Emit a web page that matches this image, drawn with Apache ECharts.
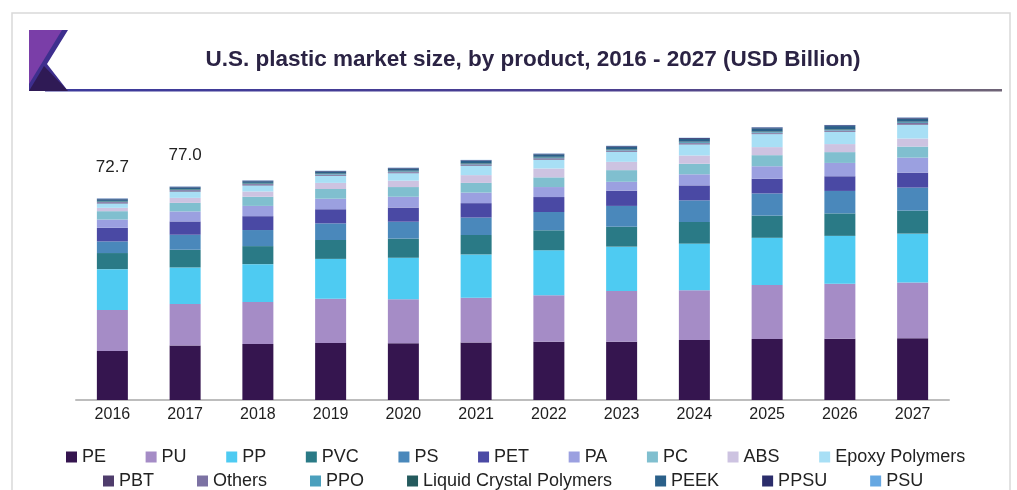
<!DOCTYPE html>
<html>
<head>
<meta charset="utf-8">
<script src="https://cdn.jsdelivr.net/npm/echarts@6/dist/echarts.min.js"></script>
<style>
  html, body { margin: 0; padding: 0; background: #ffffff; }
  #chart { width: 1017px; height: 490px; }
</style>
</head>
<body>
<div id="chart"></div>
<script>
// U.S. plastic market size by product, USD billion
const years = ['2016', '2017', '2018', '2019', '2020', '2021', '2022', '2023', '2024', '2025', '2026', '2027'];

const PE    = [17.7, 19.7, 20.2, 20.6, 20.5, 20.7, 21.0, 21.0, 21.6, 22.0, 22.1, 22.3];
const PU    = [14.8, 14.9, 15.1, 15.9, 15.8, 16.2, 16.8, 18.3, 18.0, 19.5, 19.8, 20.1];
const PP    = [14.7, 13.2, 13.7, 14.4, 15.0, 15.6, 16.2, 16.0, 16.8, 17.0, 17.3, 17.6];
const PVC   = [5.8, 6.4, 6.5, 6.8, 6.9, 7.0, 7.2, 7.2, 7.8, 8.0, 8.1, 8.3];
const PS    = [4.2, 5.4, 5.8, 6.0, 6.1, 6.3, 6.6, 7.5, 7.8, 8.0, 8.1, 8.3];
const PET   = [4.9, 4.8, 5.0, 5.1, 5.1, 5.2, 5.4, 5.5, 5.4, 5.3, 5.3, 5.4];
const PA    = [3.0, 3.6, 3.7, 3.8, 3.9, 3.8, 3.6, 3.2, 4.0, 4.5, 4.8, 5.4];
const PC    = [3.0, 3.1, 3.3, 3.5, 3.5, 3.5, 3.5, 4.2, 3.8, 4.0, 3.9, 4.0];
const ABS   = [1.2, 1.8, 1.9, 2.2, 2.3, 2.8, 3.2, 3.0, 3.0, 2.9, 2.9, 2.9];
const EPOXY = [1.6, 2.3, 2.2, 2.5, 2.7, 3.4, 3.2, 3.6, 4.0, 4.7, 4.4, 5.0];
const PBT   = [0.2, 0.2, 0.2, 0.2, 0.2, 0.2, 0.2, 0.2, 0.2, 0.2, 0.2, 0.2];
const OTHERS= [0.3, 0.3, 0.3, 0.3, 0.3, 0.3, 0.3, 0.3, 0.3, 0.3, 0.3, 0.4];
const PPO   = [0.2, 0.2, 0.2, 0.2, 0.2, 0.2, 0.3, 0.3, 0.3, 0.3, 0.3, 0.3];
const LCP   = [0.2, 0.2, 0.2, 0.2, 0.2, 0.2, 0.2, 0.2, 0.2, 0.2, 0.2, 0.2];
const PEEK  = [0.6, 0.6, 0.6, 0.7, 0.8, 0.9, 0.9, 0.9, 1.0, 1.1, 1.1, 1.1];
const PPSU  = [0.2, 0.2, 0.2, 0.2, 0.2, 0.2, 0.2, 0.2, 0.3, 0.3, 0.3, 0.3];
const PSU   = [0.1, 0.1, 0.1, 0.1, 0.1, 0.1, 0.1, 0.1, 0.1, 0.1, 0.1, 0.1];

// years whose stacked total is printed above the bar
const labelledYears = ['2016', '2017'];

const productSeries = [
  { name: 'PE', data: PE, color: '#35154f' },
  { name: 'PU', data: PU, color: '#a58cc6' },
  { name: 'PP', data: PP, color: '#4ecbf2' },
  { name: 'PVC', data: PVC, color: '#2a7a86' },
  { name: 'PS', data: PS, color: '#4a88bb' },
  { name: 'PET', data: PET, color: '#4a49a4' },
  { name: 'PA', data: PA, color: '#9ba0e0' },
  { name: 'PC', data: PC, color: '#80bfcf' },
  { name: 'ABS', data: ABS, color: '#cdc3e1' },
  { name: 'Epoxy Polymers', data: EPOXY, color: '#a8dff5' },
  { name: 'PBT', data: PBT, color: '#4f3d6c' },
  { name: 'Others', data: OTHERS, color: '#7c72a3' },
  { name: 'PPO', data: PPO, color: '#4ba0bd' },
  { name: 'Liquid Crystal Polymers', data: LCP, color: '#245a5d' },
  { name: 'PEEK', data: PEEK, color: '#2b6089' },
  { name: 'PPSU', data: PPSU, color: '#2b2d6b' },
  { name: 'PSU', data: PSU, color: '#66a8e2' }
];

const legendRow1 = ['PE', 'PU', 'PP', 'PVC', 'PS', 'PET', 'PA', 'PC', 'ABS', 'Epoxy Polymers'];
const legendRow2 = ['PBT', 'Others', 'PPO', 'Liquid Crystal Polymers', 'PEEK', 'PPSU', 'PSU'];

function stackTotal(i) {
  let s = 0;
  productSeries.forEach(p => { s += p.data[i]; });
  return s.toFixed(1);
}

const lastIndex = productSeries.length - 1;
const series = productSeries.map((p, k) => ({
  name: p.name,
  type: 'bar',
  stack: 'total',
  barWidth: 31,
  itemStyle: { color: p.color },
  emphasis: { disabled: true },
  data: p.data.map((v, i) => {
    if (k === lastIndex && labelledYears.indexOf(years[i]) >= 0) {
      return {
        value: v,
        label: {
          show: true,
          position: 'top',
          distance: 23,
          formatter: () => stackTotal(i),
          fontFamily: 'Liberation Sans, Arial, sans-serif',
          fontSize: 17,
          color: '#222222'
        }
      };
    }
    return v;
  })
}));

const legendText = { fontFamily: 'Liberation Sans, Arial, sans-serif', fontSize: 18, color: '#222222' };

const chart = echarts.init(document.getElementById('chart'), null, { renderer: 'canvas' });
chart.setOption({
  animation: false,
  backgroundColor: '#ffffff',
  grid: { left: 76, right: 68, top: 95, bottom: 90 },
  xAxis: {
    type: 'category',
    data: years,
    axisLine: { show: true, lineStyle: { color: '#bdbdbd', width: 2 } },
    axisTick: { show: false },
    axisLabel: {
      margin: 7,
      fontFamily: 'Liberation Sans, Arial, sans-serif',
      fontSize: 16,
      color: '#1e1e1e'
    }
  },
  yAxis: { type: 'value', min: 0, max: 110, show: false },
  legend: [
    {
      data: legendRow1,
      left: 66, top: 448, padding: 0,
      itemWidth: 11, itemHeight: 11, itemGap: 39.6,
      icon: 'rect',
      textStyle: legendText,
      selectedMode: false
    },
    {
      data: legendRow2,
      left: 103, top: 472, padding: 0,
      itemWidth: 11, itemHeight: 11, itemGap: 43,
      icon: 'rect',
      textStyle: legendText,
      selectedMode: false
    }
  ],
  graphic: [
    // panel frame
    {
      type: 'rect', silent: true,
      shape: { x: 12, y: 13, width: 998, height: 500 },
      style: { fill: 'none', stroke: '#d9d9d9', lineWidth: 1.5 }
    },
    // header rule
    {
      type: 'rect', silent: true,
      shape: { x: 45, y: 89, width: 957, height: 2.5 },
      style: {
        fill: new echarts.graphic.LinearGradient(0, 0, 1, 0, [
          { offset: 0, color: '#3c3a9c' },
          { offset: 0.6, color: '#4b3f8f' },
          { offset: 1, color: '#6f6476' }
        ])
      }
    },
    // header emblem
    {
      type: 'polygon', silent: true,
      shape: { points: [[29, 30], [68, 30], [47, 64], [68, 91], [29, 91]] },
      style: { fill: '#3e2f8e' }
    },
    {
      type: 'polygon', silent: true,
      shape: { points: [[29, 30], [62, 30], [29, 84]] },
      style: { fill: '#7a3ea8' }
    },
    {
      type: 'polygon', silent: true,
      shape: { points: [[44, 66], [68, 91], [29, 91]] },
      style: { fill: '#2f1a55' }
    },
    {
      type: 'text', silent: true,
      x: 533, y: 60,
      style: {
        text: 'U.S. plastic market size, by product, 2016 - 2027 (USD Billion)',
        align: 'center',
        verticalAlign: 'middle',
        fontFamily: 'Liberation Sans, Arial, sans-serif',
        fontWeight: 'bold',
        fontSize: 22.5,
        fill: '#2b2344'
      }
    }
  ],
  series: series
});
</script>
</body>
</html>
